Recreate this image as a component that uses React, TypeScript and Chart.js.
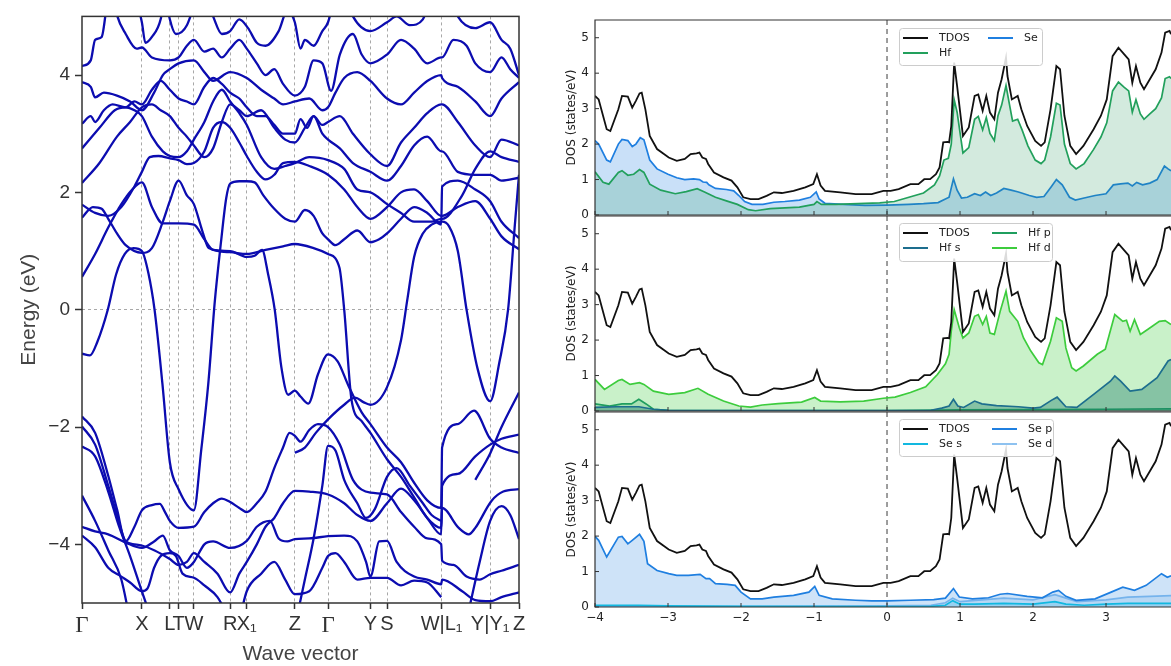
import React, { useEffect, useRef } from 'react';
import { Chart, registerables } from 'chart.js';
Chart.register(...registerables);

type P = [number, number];

// ---------- Band structure: k-path ticks ----------
const kTicks = [0, 0.137, 0.201, 0.221, 0.256, 0.339, 0.377, 0.487, 0.563, 0.66, 0.698, 0.823, 0.934, 1];
const kLabels = ['Γ', 'X', 'L', 'T', 'W', 'R', 'X₁', 'Z', 'Γ', 'Y', 'S', 'W|L₁', 'Y|Y₁', 'Z'];
const energyTicks = [-4, -2, 0, 2, 4];

// ---------- Bands (k, E in eV) ----------
const bandA: P[] = [[0,-0.75],[0.018,-0.78],[0.035,-0.55],[0.059,0],[0.078,0.6],[0.098,0.95],[0.118,1.05],[0.137,1.0],[0.152,0.62],[0.166,0],[0.184,-1.26],[0.201,-2.6],[0.221,-3.06],[0.256,-3.42],[0.273,-2.38],[0.289,-1.26],[0.304,0.15],[0.318,1.15],[0.33,1.9],[0.339,2.15],[0.36,2.19],[0.377,2.19],[0.395,2.17],[0.415,1.95],[0.44,1.72],[0.465,1.55],[0.487,1.5],[0.51,1.7],[0.53,1.6],[0.55,1.3],[0.563,1.2],[0.58,1.1],[0.6,1.2],[0.63,1.35],[0.66,1.15],[0.68,1.2],[0.698,1.3],[0.73,1.55],[0.76,1.75],[0.79,1.65],[0.822,1.45],[0.824,2.1],[0.86,2.2],[0.9,2.05],[0.934,1.85],[0.96,1.5],[1,1.22]];
const band01: P[] = [[0,0.56],[0.03,0.95],[0.06,1.4],[0.09,1.8],[0.115,2.05],[0.137,2.17],[0.16,1.75],[0.185,1.47],[0.221,1.47],[0.256,1.45],[0.28,1.2],[0.3,1.02],[0.339,1.0],[0.377,0.9],[0.395,0.92],[0.412,1.02],[0.426,0.6],[0.441,0],[0.456,-0.97],[0.472,-1.45],[0.487,-1.38],[0.5,-1.48],[0.518,-1.6],[0.54,-1.1],[0.563,-0.76],[0.585,-0.88],[0.61,-1.3],[0.64,-1.75],[0.66,-1.95],[0.698,-2.35],[0.73,-2.6],[0.76,-2.95],[0.79,-3.25],[0.822,-3.38],[0.824,-2.35],[0.86,-1.95],[0.897,-1.72],[0.934,-2.2],[0.96,-2.35],[1,-2.44]];
const band02: P[] = [[0,1.57],[0.025,1.75],[0.045,1.72],[0.06,1.55],[0.08,1.3],[0.1,1.1],[0.137,0.97],[0.16,1.05],[0.185,1.5],[0.201,1.85],[0.221,2.2],[0.24,1.95],[0.256,1.8],[0.275,1.35],[0.29,1.05],[0.339,0.98],[0.377,0.95],[0.42,1.02],[0.46,1.08],[0.487,1.12],[0.53,1.05],[0.563,0.95],[0.589,0.72],[0.6,0],[0.617,-1.55],[0.64,-1.9],[0.66,-2.1],[0.698,-2.55],[0.73,-2.85],[0.76,-3.2],[0.79,-3.55],[0.822,-3.72],[0.824,-3.38],[0.862,-3.72],[0.885,-3.83],[0.9,-3.72],[0.937,-3.26],[0.964,-3.1],[1,-3.06]];
const band03: P[] = [[0.487,-2.44],[0.51,-2.35],[0.535,-2.1],[0.563,-1.87],[0.6,-1.62],[0.625,-1.5],[0.645,-1.58],[0.66,-1.62],[0.698,-1.32],[0.73,-0.52],[0.744,0.15],[0.76,0.9],[0.78,1.3],[0.8,1.45],[0.822,1.5],[0.824,1.5],[0.84,1.42],[0.86,1.0],[0.88,0],[0.905,-1.0],[0.934,-1.56],[0.955,-0.9],[0.975,0],[0.99,1.4],[1,2.3]];
const band04: P[] = [[0,1.79],[0.03,1.65],[0.06,1.6],[0.09,1.75],[0.12,2.1],[0.137,2.35],[0.155,2.6],[0.175,2.62],[0.201,2.58],[0.221,2.55],[0.24,2.48],[0.256,2.5],[0.28,2.7],[0.3,3.1],[0.32,3.2],[0.339,3.1],[0.36,2.85],[0.377,2.62],[0.4,2.35],[0.42,2.22],[0.44,2.3],[0.46,2.5],[0.487,2.52],[0.52,2.45],[0.563,2.3],[0.6,2.05],[0.63,1.75],[0.66,1.55],[0.698,1.75],[0.73,2.0],[0.76,2.05],[0.79,1.85],[0.822,1.6],[0.824,1.6],[0.86,1.75],[0.9,1.85],[0.934,1.55],[0.96,1.25],[1,1.03]];
const band05: P[] = [[0,2.16],[0.04,2.5],[0.08,2.95],[0.11,3.2],[0.137,3.45],[0.16,3.5],[0.18,3.4],[0.201,3.3],[0.221,3.1],[0.24,2.95],[0.256,2.8],[0.28,2.6],[0.3,2.75],[0.32,3.2],[0.339,3.5],[0.36,3.4],[0.377,3.3],[0.41,3.4],[0.44,3.1],[0.465,2.9],[0.487,2.85],[0.51,3.1],[0.53,3.3],[0.55,3.0],[0.563,2.9],[0.59,2.75],[0.62,2.5],[0.66,2.35],[0.698,2.2],[0.73,2.45],[0.76,2.8],[0.79,2.95],[0.822,2.7],[0.824,2.7],[0.86,2.35],[0.9,2.3],[0.934,2.3],[0.96,2.2],[1,2.25]];
const band06: P[] = [[0,2.75],[0.04,3.1],[0.075,3.4],[0.1,3.45],[0.12,3.4],[0.137,3.3],[0.16,2.95],[0.185,2.7],[0.201,2.62],[0.221,2.6],[0.24,2.7],[0.256,2.9],[0.28,3.2],[0.3,3.55],[0.32,3.75],[0.339,3.55],[0.36,3.35],[0.377,3.15],[0.41,2.6],[0.44,2.4],[0.465,2.45],[0.487,2.5],[0.52,2.6],[0.563,2.55],[0.6,2.4],[0.63,2.05],[0.66,2.0],[0.698,1.8],[0.73,1.65],[0.76,1.5],[0.8,1.5],[0.822,1.55],[0.824,1.55],[0.87,1.95],[0.9,2.4],[0.934,2.7],[0.96,2.6],[1,2.52]];
const band07: P[] = [[0,3.17],[0.02,3.3],[0.03,3.2],[0.05,3.4],[0.07,3.5],[0.1,3.45],[0.12,3.55],[0.137,3.5],[0.16,3.75],[0.18,3.9],[0.201,3.75],[0.221,3.6],[0.24,3.55],[0.256,3.5],[0.28,3.8],[0.3,3.95],[0.32,3.85],[0.339,3.7],[0.36,3.6],[0.377,3.45],[0.4,3.3],[0.42,3.3],[0.44,3.15],[0.46,3.0],[0.487,3.0],[0.5,3.25],[0.515,3.1],[0.53,3.3],[0.55,3.15],[0.563,3.2],[0.59,3.3],[0.62,3.0],[0.66,2.65],[0.698,2.45],[0.73,2.85],[0.76,3.1],[0.79,3.35],[0.822,3.5],[0.824,3.5],[0.86,3.2],[0.9,2.8],[0.934,2.6],[0.96,2.9],[1,2.8]];
const band08: P[] = [[0,3.88],[0.02,3.8],[0.03,3.62],[0.05,3.7],[0.08,3.65],[0.11,3.55],[0.137,3.4],[0.165,3.7],[0.185,4.0],[0.201,4.1],[0.221,4.2],[0.256,4.25],[0.28,4.05],[0.3,3.9],[0.339,4.05],[0.377,3.95],[0.41,3.75],[0.44,3.6],[0.46,3.5],[0.487,3.55],[0.52,3.6],[0.55,3.4],[0.563,3.45],[0.58,3.7],[0.6,3.95],[0.63,4.05],[0.66,3.9],[0.698,3.6],[0.73,3.5],[0.76,3.7],[0.79,3.9],[0.822,4.0],[0.824,3.95],[0.86,3.8],[0.9,3.55],[0.934,3.3],[0.96,3.6],[1,3.88]];
const band09: P[] = [[0,4.15],[0.02,4.25],[0.03,4.6],[0.045,4.65],[0.055,5.1],[0.06,5.4]];
const band10: P[] = [[0.07,5.4],[0.081,5.0],[0.1,4.7],[0.125,4.45],[0.137,4.47],[0.16,4.3],[0.201,4.25],[0.221,4.3],[0.24,4.5],[0.256,4.6],[0.28,4.4],[0.3,4.45],[0.32,4.3],[0.339,4.45],[0.36,4.6],[0.377,4.45],[0.4,4.2],[0.42,4.0],[0.44,4.1],[0.46,3.85],[0.487,3.65],[0.51,3.8],[0.53,4.25],[0.55,4.2],[0.57,3.73],[0.59,4.35],[0.62,4.7],[0.64,4.35],[0.66,4.2],[0.698,4.35],[0.73,4.6],[0.76,4.45],[0.79,4.2],[0.822,4.3],[0.824,4.3],[0.85,4.6],[0.88,4.5],[0.9,4.2],[0.934,4.05],[0.96,4.3],[0.98,4.1],[1,3.95]];
const band11: P[] = [[0.12,5.4],[0.137,4.9],[0.145,4.55],[0.16,4.65],[0.18,4.95],[0.19,5.4]];
const band12: P[] = [[0.19,5.4],[0.201,4.95],[0.215,4.7],[0.24,4.85],[0.265,5.4]];
const band13: P[] = [[0.28,5.4],[0.3,5.0],[0.32,4.7],[0.339,4.75],[0.36,4.95],[0.38,4.8],[0.4,4.55],[0.42,4.5],[0.45,4.75],[0.47,5.1],[0.487,4.9],[0.5,4.45],[0.51,4.6],[0.53,4.5],[0.55,4.75],[0.563,4.9],[0.58,5.4]];
const band14: P[] = [[0.6,5.4],[0.62,5.0],[0.66,4.75],[0.698,4.9],[0.72,5.0],[0.75,4.85],[0.78,4.95],[0.8,5.4]];
const band15: P[] = [[0.84,5.4],[0.86,5.0],[0.9,4.8],[0.934,4.9],[0.96,4.6],[0.98,4.45],[1,4.0]];
const band16: P[] = [[0,-1.82],[0.03,-2.1],[0.06,-2.83],[0.08,-3.4],[0.1,-3.95],[0.12,-3.7],[0.137,-3.42],[0.16,-3.33],[0.178,-3.31],[0.19,-3.45],[0.201,-3.6],[0.221,-3.72],[0.256,-3.7],[0.28,-3.45],[0.3,-3.3],[0.32,-3.22],[0.339,-3.28],[0.36,-3.38],[0.377,-3.45],[0.4,-3.3],[0.42,-3.1],[0.44,-2.7],[0.46,-2.35],[0.475,-2.1],[0.487,-2.15],[0.5,-2.25],[0.52,-2.05],[0.54,-1.95],[0.563,-2.0],[0.59,-2.3],[0.62,-2.9],[0.66,-3.12],[0.698,-3.15],[0.73,-3.45],[0.76,-3.7],[0.79,-3.9],[0.822,-4.0],[0.824,-4.28],[0.85,-4.35],[0.88,-4.55],[0.91,-4.6],[0.934,-4.51],[0.96,-4.45],[1,-4.35]];
const band17: P[] = [[0,-1.99],[0.03,-2.3],[0.06,-3.0],[0.08,-3.5],[0.1,-3.95],[0.12,-4.0],[0.137,-4.02],[0.165,-4.1],[0.201,-4.25],[0.221,-4.35],[0.24,-4.3],[0.256,-4.15],[0.28,-4.3],[0.31,-4.5],[0.339,-4.82],[0.36,-4.5],[0.377,-4.3],[0.4,-4.0],[0.42,-3.7],[0.44,-3.55],[0.46,-3.3],[0.487,-3.09],[0.52,-3.1],[0.563,-3.15],[0.6,-3.3],[0.63,-3.5],[0.66,-3.6],[0.698,-3.3],[0.73,-3.05],[0.76,-3.25],[0.79,-3.55],[0.822,-3.83],[0.824,-3.0],[0.86,-2.8],[0.9,-2.5],[0.934,-2.3],[0.96,-2.2],[1,-2.13]];
const band18: P[] = [[0,-2.33],[0.03,-2.5],[0.06,-3.1],[0.085,-3.7],[0.11,-4.2],[0.137,-4.8],[0.16,-5.3]];
const band19: P[] = [[0,-3.17],[0.03,-3.6],[0.06,-4.1],[0.09,-4.6],[0.11,-5.3]];
const band20: P[] = [[0,-3.7],[0.03,-3.78],[0.06,-3.83],[0.1,-3.97],[0.137,-4.06],[0.165,-3.95],[0.185,-3.85],[0.201,-4.1],[0.221,-4.2],[0.24,-4.4],[0.256,-4.3],[0.28,-4.0],[0.3,-3.95],[0.339,-4.06],[0.377,-3.94],[0.4,-3.7],[0.43,-3.6],[0.45,-3.9],[0.47,-3.95],[0.487,-3.91],[0.52,-3.9],[0.563,-3.86],[0.6,-3.85],[0.63,-3.95],[0.65,-4.3],[0.66,-4.55],[0.68,-3.95],[0.698,-3.94],[0.72,-4.3],[0.76,-4.55],[0.79,-4.6],[0.822,-4.68],[0.824,-4.6],[0.87,-4.8],[0.9,-4.95],[0.934,-4.97],[0.96,-4.9],[1,-4.82]];
const band21: P[] = [[0,-3.85],[0.03,-4.05],[0.06,-4.4],[0.09,-4.55],[0.11,-4.65],[0.137,-4.8],[0.15,-4.75],[0.165,-4.4],[0.18,-4.2],[0.201,-4.15],[0.215,-4.2],[0.23,-4.5],[0.256,-4.57],[0.28,-4.7],[0.31,-4.9],[0.339,-5.3]];
const band22: P[] = [[0.36,-5.3],[0.377,-4.8],[0.41,-4.5],[0.44,-4.3],[0.465,-4.6],[0.487,-4.85],[0.52,-4.8],[0.55,-4.4],[0.563,-4.2],[0.58,-4.15],[0.6,-4.3],[0.63,-4.6],[0.66,-4.57],[0.698,-4.57],[0.73,-4.7],[0.76,-4.62],[0.79,-4.65],[0.822,-4.9]];
const band23: P[] = [[0.49,-5.3],[0.51,-4.6],[0.53,-3.9],[0.55,-3.0],[0.563,-2.32],[0.58,-2.4],[0.6,-2.9],[0.63,-3.3],[0.65,-3.55],[0.67,-3.4],[0.698,-2.85],[0.72,-2.7],[0.75,-3.0],[0.78,-3.3],[0.8,-3.5],[0.822,-3.6]];
const band24: P[] = [[0.88,-5.3],[0.91,-4.3],[0.934,-3.6],[0.96,-3.35],[0.98,-3.5],[1,-3.91]];
const band25: P[] = [[0.9,-2.9],[0.934,-2.45],[0.96,-2.0],[1,-1.41]];
const bands: P[][] = [bandA, band01, band02, band03, band04, band05, band06, band07, band08, band09, band10, band11, band12, band13, band14, band15, band16, band17, band18, band19, band20, band21, band22, band23, band24, band25];

// ---------- DOS (energy eV, states/eV) ----------
const dosEnergyTicks = [-4, -3, -2, -1, 0, 1, 2, 3];
const dosTicks = [0, 1, 2, 3, 4, 5];

const tdos: P[] = [[-4,3.36],[-3.95,3.26],[-3.84,2.42],[-3.79,2.37],[-3.68,2.98],[-3.63,3.36],[-3.55,3.34],[-3.49,3.03],[-3.44,3.22],[-3.39,3.43],[-3.36,3.45],[-3.31,2.98],[-3.25,2.23],[-3.15,1.86],[-2.99,1.62],[-2.88,1.53],[-2.77,1.58],[-2.69,1.72],[-2.61,1.74],[-2.57,1.76],[-2.53,1.62],[-2.48,1.58],[-2.45,1.44],[-2.37,1.2],[-2.24,1.06],[-2.13,0.97],[-2.05,0.78],[-1.97,0.5],[-1.87,0.45],[-1.76,0.45],[-1.65,0.54],[-1.55,0.64],[-1.44,0.62],[-1.28,0.68],[-1.12,0.78],[-1.01,0.87],[-0.96,1.15],[-0.91,0.83],[-0.85,0.68],[-0.64,0.64],[-0.43,0.59],[-0.21,0.59],[-0.05,0.68],[0.05,0.68],[0.16,0.73],[0.32,0.87],[0.43,0.87],[0.51,1.01],[0.59,1.01],[0.67,1.15],[0.72,1.34],[0.77,2.05],[0.83,2.06],[0.85,2.05],[0.88,2.51],[0.92,4.3],[0.96,3.64],[1.04,2.23],[1.12,2.47],[1.2,3.36],[1.25,3.4],[1.31,2.94],[1.36,3.36],[1.41,2.89],[1.47,2.7],[1.52,3.45],[1.57,3.83],[1.63,4.44],[1.65,3.92],[1.71,3.26],[1.79,3.36],[1.84,2.98],[1.92,2.51],[2.03,2.09],[2.11,1.95],[2.16,2.05],[2.24,2.98],[2.32,4.2],[2.37,4.11],[2.43,2.8],[2.51,1.95],[2.59,1.72],[2.69,1.95],[2.83,2.42],[2.93,2.8],[3.01,3.26],[3.09,4.48],[3.17,4.72],[3.25,4.53],[3.31,4.39],[3.36,3.73],[3.41,4.2],[3.47,3.73],[3.52,3.55],[3.6,3.83],[3.68,4.11],[3.76,4.58],[3.81,5.14],[3.87,5.19],[3.89,5.1]];
const seDos: P[] = [[-4,2.1],[-3.95,2.0],[-3.84,1.55],[-3.79,1.5],[-3.68,2.0],[-3.63,2.13],[-3.55,2.1],[-3.49,1.93],[-3.44,2.0],[-3.38,2.18],[-3.33,2.12],[-3.25,1.55],[-3.15,1.3],[-3.0,1.15],[-2.88,1.05],[-2.77,1.0],[-2.65,1.02],[-2.57,1.0],[-2.52,0.93],[-2.47,0.92],[-2.44,0.85],[-2.35,0.75],[-2.2,0.72],[-2.1,0.68],[-2.03,0.55],[-1.95,0.38],[-1.85,0.3],[-1.7,0.3],[-1.55,0.36],[-1.4,0.38],[-1.2,0.42],[-1.05,0.5],[-0.97,0.65],[-0.93,0.45],[-0.85,0.33],[-0.6,0.3],[-0.3,0.27],[0,0.28],[0.3,0.3],[0.5,0.32],[0.7,0.35],[0.8,0.45],[0.85,0.5],[0.91,1.02],[0.96,0.7],[1.02,0.48],[1.1,0.5],[1.2,0.6],[1.28,0.55],[1.35,0.65],[1.42,0.55],[1.5,0.62],[1.6,0.75],[1.7,0.7],[1.8,0.65],[1.95,0.55],[2.05,0.5],[2.15,0.52],[2.25,0.8],[2.32,1.0],[2.4,0.85],[2.5,0.5],[2.58,0.42],[2.7,0.48],[2.85,0.55],[3.0,0.6],[3.1,0.85],[3.2,0.88],[3.3,0.9],[3.36,0.82],[3.42,0.92],[3.5,0.85],[3.6,0.9],[3.7,1.0],[3.8,1.38],[3.85,1.3],[3.89,1.25]];
const hfDos: P[] = [[-4,1.22],[-3.89,0.92],[-3.81,0.87],[-3.68,1.2],[-3.63,1.25],[-3.55,1.12],[-3.47,1.15],[-3.39,1.28],[-3.33,1.2],[-3.25,0.87],[-3.1,0.7],[-2.9,0.6],[-2.75,0.66],[-2.6,0.74],[-2.5,0.65],[-2.35,0.5],[-2.2,0.4],[-2.05,0.3],[-1.9,0.15],[-1.8,0.12],[-1.6,0.18],[-1.4,0.2],[-1.2,0.22],[-1.0,0.3],[-0.96,0.38],[-0.9,0.3],[-0.7,0.3],[-0.4,0.32],[-0.1,0.34],[0.1,0.38],[0.3,0.5],[0.5,0.62],[0.65,0.85],[0.72,1.1],[0.78,1.55],[0.84,1.6],[0.88,2.0],[0.92,3.25],[0.96,2.9],[1.04,1.75],[1.12,1.9],[1.2,2.7],[1.25,2.78],[1.31,2.4],[1.36,2.75],[1.41,2.3],[1.47,2.1],[1.52,2.8],[1.57,3.1],[1.63,3.65],[1.67,3.2],[1.72,2.65],[1.79,2.7],[1.85,2.4],[1.93,1.95],[2.03,1.55],[2.11,1.45],[2.16,1.55],[2.24,2.2],[2.32,3.15],[2.37,3.1],[2.43,2.0],[2.51,1.45],[2.59,1.3],[2.7,1.45],[2.83,1.85],[2.93,2.2],[3.01,2.6],[3.09,3.5],[3.17,3.75],[3.25,3.6],[3.31,3.5],[3.36,2.9],[3.41,3.25],[3.47,2.85],[3.52,2.7],[3.6,2.85],[3.68,3.0],[3.76,3.3],[3.81,3.85],[3.87,3.9],[3.89,3.85]];
const hfS: P[] = [[-4,0.1],[-3.7,0.12],[-3.4,0.12],[-3.2,0.05],[-3,0.02],[-2,0.01],[0,0.01],[0.6,0.02],[0.75,0.08],[0.85,0.14],[0.91,0.33],[0.97,0.14],[1.05,0.1],[1.2,0.28],[1.3,0.2],[1.5,0.15],[1.8,0.12],[2.0,0.08],[2.1,0.1],[2.25,0.3],[2.33,0.39],[2.45,0.12],[2.6,0.1],[2.83,0.47],[3.06,0.84],[3.12,0.99],[3.2,0.84],[3.33,0.56],[3.49,0.61],[3.7,0.94],[3.85,1.41],[3.89,1.45]];
const hfP: P[] = [[-4,0.2],[-3.8,0.14],[-3.63,0.2],[-3.5,0.2],[-3.4,0.33],[-3.3,0.2],[-3.2,0.05],[-3,0.02],[0,0.01],[1,0.03],[2,0.04],[3,0.05],[3.89,0.06]];
const hfD: P[] = [[-4,0.89],[-3.87,0.61],[-3.68,0.86],[-3.63,0.89],[-3.52,0.75],[-3.39,0.8],[-3.33,0.75],[-3.2,0.56],[-2.99,0.47],[-2.77,0.52],[-2.59,0.64],[-2.45,0.47],[-2.24,0.28],[-2.03,0.14],[-1.87,0.11],[-1.71,0.17],[-1.49,0.21],[-1.17,0.25],[-0.99,0.38],[-0.91,0.28],[-0.64,0.26],[-0.32,0.28],[-0.05,0.36],[0.11,0.39],[0.32,0.52],[0.53,0.68],[0.69,1.03],[0.8,1.33],[0.85,1.6],[0.88,2.25],[0.92,2.86],[0.99,2.35],[1.04,2.06],[1.12,2.2],[1.2,2.67],[1.25,2.72],[1.31,2.44],[1.36,2.67],[1.41,2.2],[1.47,2.16],[1.55,2.81],[1.63,3.38],[1.68,2.81],[1.79,2.53],[1.87,2.06],[1.97,1.69],[2.08,1.36],[2.13,1.31],[2.24,1.97],[2.32,2.63],[2.4,2.53],[2.45,1.78],[2.53,1.22],[2.59,1.13],[2.69,1.27],[2.88,1.6],[2.99,1.74],[3.12,2.72],[3.23,2.53],[3.28,2.56],[3.33,2.25],[3.39,2.58],[3.47,2.16],[3.57,2.3],[3.73,2.53],[3.81,2.55],[3.89,2.44]];
const seS: P[] = [[-4,0.05],[-3.4,0.05],[-3,0.03],[-2,0.02],[0,0.01],[0.6,0.02],[0.8,0.05],[0.9,0.18],[1.0,0.08],[1.2,0.08],[1.6,0.1],[2.0,0.08],[2.3,0.15],[2.45,0.08],[2.7,0.05],[3.0,0.08],[3.3,0.1],[3.6,0.1],[3.89,0.1]];
const seP: P[] = [[-4,1.99],[-3.95,1.88],[-3.84,1.41],[-3.68,1.97],[-3.63,1.99],[-3.55,1.78],[-3.49,1.88],[-3.39,2.05],[-3.33,1.85],[-3.28,1.22],[-3.15,1.03],[-2.99,0.94],[-2.88,0.89],[-2.72,0.89],[-2.56,0.92],[-2.48,0.8],[-2.43,0.8],[-2.35,0.66],[-2.19,0.64],[-2.08,0.61],[-2.0,0.42],[-1.87,0.23],[-1.71,0.23],[-1.55,0.28],[-1.28,0.33],[-1.07,0.42],[-0.99,0.58],[-0.93,0.33],[-0.75,0.23],[-0.43,0.19],[-0.21,0.17],[0,0.17],[0.32,0.19],[0.64,0.21],[0.8,0.25],[0.91,0.52],[0.99,0.28],[1.17,0.23],[1.39,0.26],[1.55,0.36],[1.65,0.38],[1.92,0.3],[2.13,0.26],[2.27,0.42],[2.35,0.47],[2.45,0.3],[2.59,0.19],[2.85,0.23],[3.07,0.42],[3.23,0.56],[3.39,0.47],[3.55,0.61],[3.76,0.94],[3.84,0.84],[3.89,0.88]];
const seD: P[] = [[-4,0.02],[-3,0.02],[-2,0.02],[0,0.03],[0.6,0.05],[0.8,0.12],[0.9,0.25],[1.0,0.15],[1.3,0.2],[1.6,0.25],[2.0,0.2],[2.3,0.35],[2.45,0.25],[2.6,0.15],[3.0,0.2],[3.3,0.28],[3.6,0.3],[3.89,0.32]];

// ---------- styles ----------
const SANS = '"Liberation Sans", Arial, sans-serif';
const SERIF = '"Liberation Serif", "Times New Roman", serif';
const DV = '"DejaVu Sans", sans-serif';
const C = {
  tdos: '#111111', hf: '#22a05c', se: '#1f7fe0', hfS: '#1d6e8e', hfP: '#1f9e5e', hfD: '#3dcc3d',
  seS: '#12b8e0', seP: '#1f7fe0', seD: '#8ec2f0', band: '#0c0cb0',
};

const toXY = (a: P[]) => a.map(([x, y]) => ({ x, y }));
const minus = (v: number) => (v < 0 ? '\u2212' + Math.abs(v) : String(v));

function dsLine(data: P[], color: string, width: number, fill?: string) {
  return {
    data: toXY(data), borderColor: color, borderWidth: width, pointRadius: 0,
    fill: fill ? 'origin' : false, backgroundColor: fill || 'rgba(0,0,0,0)', tension: 0,
  };
}

type LegItem = { label: string; color: string; col: number; row: number };
type LegBox = { x: number; y: number; w: number; h: number; col1: number; items: LegItem[] };

function dosDecor(leg: LegBox) {
  return {
    id: 'dosDecor',
    beforeDatasetsDraw(chart: any) {
      const { ctx, chartArea: a, scales } = chart;
      const px = scales.x.getPixelForValue(0);
      ctx.save();
      ctx.strokeStyle = '#6a6a6a'; ctx.lineWidth = 1.3; ctx.setLineDash([5, 4]);
      ctx.beginPath(); ctx.moveTo(px, a.top); ctx.lineTo(px, a.bottom); ctx.stroke();
      ctx.restore();
    },
    afterDraw(chart: any) {
      const { ctx, chartArea: a, scales } = chart;
      ctx.save();
      ctx.strokeStyle = '#333'; ctx.lineWidth = 1.2;
      ctx.beginPath();
      ctx.moveTo(a.right + 2, a.top); ctx.lineTo(a.left, a.top); ctx.lineTo(a.left, a.bottom); ctx.lineTo(a.right + 2, a.bottom);
      ctx.stroke();
      ctx.lineWidth = 1;
      ctx.beginPath();
      scales.x.ticks.forEach((t: any) => {
        const p = scales.x.getPixelForValue(t.value);
        ctx.moveTo(p, a.bottom); ctx.lineTo(p, a.bottom - 4);
      });
      scales.y.ticks.forEach((t: any) => {
        const p = scales.y.getPixelForValue(t.value);
        ctx.moveTo(a.left, p); ctx.lineTo(a.left + 4, p);
      });
      ctx.stroke();
      // legend
      const bx = a.left + leg.x, by = a.top + leg.y;
      ctx.fillStyle = 'rgba(255,255,255,0.85)';
      ctx.strokeStyle = '#cccccc'; ctx.lineWidth = 1;
      ctx.beginPath();
      (ctx as any).roundRect(bx + 0.5, by + 0.5, leg.w, leg.h, 3);
      ctx.fill(); ctx.stroke();
      ctx.font = '11px ' + DV; ctx.textBaseline = 'middle'; ctx.textAlign = 'left';
      leg.items.forEach((it) => {
        const lx = bx + (it.col === 0 ? 4 : leg.col1);
        const ly = by + (it.row === 0 ? 10 : 25);
        ctx.strokeStyle = it.color; ctx.lineWidth = 2;
        ctx.beginPath(); ctx.moveTo(lx, ly); ctx.lineTo(lx + 25, ly); ctx.stroke();
        ctx.fillStyle = '#222';
        ctx.fillText(it.label, lx + 36, ly + 0.5);
      });
      ctx.restore();
    },
  };
}

function dosOptions(h: number, showX: boolean): any {
  return {
    responsive: false, animation: false, devicePixelRatio: 1, events: [],
    layout: { padding: { left: 0, top: 20, right: 0, bottom: 0 } },
    plugins: { legend: { display: false }, tooltip: { enabled: false } },
    scales: {
      x: {
        type: 'linear', min: -4, max: 3.89,
        afterBuildTicks: (s: any) => { s.ticks = dosEnergyTicks.map((v) => ({ value: v })); },
        afterFit: (s: any) => { s.height = h - 215; },
        ticks: { display: showX, padding: 4, color: '#222', autoSkip: false, maxRotation: 0, font: { family: DV, size: 12 }, callback: (v: number) => minus(v) },
        grid: { display: false, drawTicks: false },
        border: { display: false },
      },
      y: {
        type: 'linear', min: 0, max: 5.5,
        afterBuildTicks: (s: any) => { s.ticks = dosTicks.map((v) => ({ value: v })); },
        afterFit: (s: any) => { s.width = 65; },
        ticks: { padding: 6, color: '#222', font: { family: DV, size: 12 } },
        grid: { display: false, drawTicks: false },
        border: { display: false },
        title: { display: true, text: 'DOS (states/eV)', color: '#222', font: { family: DV, size: 12 }, padding: { top: 35, bottom: 0 } },
      },
    },
  };
}

export default function App() {
  const bandRef = useRef<HTMLCanvasElement>(null);
  const d1 = useRef<HTMLCanvasElement>(null);
  const d2 = useRef<HTMLCanvasElement>(null);
  const d3 = useRef<HTMLCanvasElement>(null);

  useEffect(() => {
    const charts: Chart[] = [];
    const frame = {
      id: 'bandFrame',
      afterDraw(chart: any) {
        const { ctx, chartArea: a } = chart;
        ctx.save(); ctx.strokeStyle = '#333'; ctx.lineWidth = 1.5;
        ctx.strokeRect(a.left, a.top, a.right - a.left, a.bottom - a.top);
        ctx.restore();
      },
    };
    charts.push(new Chart(bandRef.current!, {
      type: 'line',
      data: {
        datasets: bands.map((b) => ({
          data: toXY(b), borderColor: C.band, borderWidth: 2.3, pointRadius: 0, fill: false,
          cubicInterpolationMode: 'monotone' as const,
        })),
      },
      options: {
        responsive: false, animation: false, devicePixelRatio: 1, events: [],
        layout: { padding: { left: 0, top: 13, right: 21, bottom: 0 } },
        plugins: { legend: { display: false }, tooltip: { enabled: false } },
        scales: {
          x: {
            type: 'linear', min: 0, max: 1,
            afterBuildTicks: (s: any) => { s.ticks = kTicks.map((v) => ({ value: v })); },
            afterFit: (s: any) => { s.height = 63; },
            ticks: {
              autoSkip: false, maxRotation: 0, padding: 3, color: '#333',
              font: (c: any) => (c.index === 0 || c.index === 8 ? { family: SERIF, size: 23 } : { family: SANS, size: 20 }),
              callback: (_v: any, i: number) => kLabels[i],
            },
            grid: {
              color: (c: any) => (c.index === 0 || c.index === kTicks.length - 1 ? 'rgba(0,0,0,0)' : '#a8a8a8'),
              lineWidth: 1, tickLength: 6, tickColor: '#333', tickWidth: 1.5,
            },
            border: { display: false, dash: [3, 3] },
            title: { display: true, text: 'Wave vector', color: '#444', font: { family: SANS, size: 21, lineHeight: 1.1 }, padding: { top: 0, bottom: 0 } },
          },
          y: {
            type: 'linear', min: -5, max: 5,
            afterBuildTicks: (s: any) => { s.ticks = energyTicks.map((v) => ({ value: v })); },
            afterFit: (s: any) => { s.width = 82; },
            ticks: { padding: 5, color: '#333', font: { family: SANS, size: 19 }, callback: (v: number) => minus(v) },
            grid: {
              color: (c: any) => (c.tick && c.tick.value === 0 ? '#a8a8a8' : 'rgba(0,0,0,0)'),
              tickLength: 7, tickColor: '#333', tickWidth: 1.5,
            },
            border: { display: false, dash: [3, 3] },
            title: { display: true, text: 'Energy (eV)', color: '#444', font: { family: SANS, size: 21 }, padding: { top: 17, bottom: 0 } },
          },
        },
      } as any,
      plugins: [frame],
    }));

    const leg1: LegBox = { x: 304, y: 8, w: 143, h: 37, col1: 89, items: [
      { label: 'TDOS', color: C.tdos, col: 0, row: 0 }, { label: 'Hf', color: C.hf, col: 0, row: 1 }, { label: 'Se', color: C.se, col: 1, row: 0 }] };
    const leg2: LegBox = { x: 304, y: 7, w: 153, h: 38, col1: 93, items: [
      { label: 'TDOS', color: C.tdos, col: 0, row: 0 }, { label: 'Hf s', color: C.hfS, col: 0, row: 1 },
      { label: 'Hf p', color: C.hfP, col: 1, row: 0 }, { label: 'Hf d', color: C.hfD, col: 1, row: 1 }] };
    const leg3: LegBox = { x: 304, y: 7, w: 154, h: 37, col1: 93, items: [
      { label: 'TDOS', color: C.tdos, col: 0, row: 0 }, { label: 'Se s', color: C.seS, col: 0, row: 1 },
      { label: 'Se p', color: C.seP, col: 1, row: 0 }, { label: 'Se d', color: C.seD, col: 1, row: 1 }] };

    charts.push(new Chart(d1.current!, {
      type: 'line',
      data: { datasets: [
        dsLine(tdos, C.tdos, 1.8),
        dsLine(hfDos, C.hf, 1.7, 'rgba(34,150,92,0.2)'),
        dsLine(seDos, C.se, 1.7, 'rgba(31,127,224,0.24)'),
      ] as any },
      options: dosOptions(230, false),
      plugins: [dosDecor(leg1)],
    }));
    charts.push(new Chart(d2.current!, {
      type: 'line',
      data: { datasets: [
        dsLine(tdos, C.tdos, 1.8),
        dsLine(hfS, C.hfS, 1.7, 'rgba(25,120,105,0.38)'),
        dsLine(hfP, C.hfP, 1.7, 'rgba(31,158,94,0.2)'),
        dsLine(hfD, C.hfD, 1.7, 'rgba(60,205,60,0.28)'),
      ] as any },
      options: dosOptions(230, false),
      plugins: [dosDecor(leg2)],
    }));
    charts.push(new Chart(d3.current!, {
      type: 'line',
      data: { datasets: [
        dsLine(tdos, C.tdos, 1.8),
        dsLine(seS, C.seS, 1.7, 'rgba(18,184,224,0.2)'),
        dsLine(seP, C.seP, 1.7, 'rgba(31,127,224,0.22)'),
        dsLine(seD, C.seD, 1.7, 'rgba(142,194,240,0.25)'),
      ] as any },
      options: dosOptions(274, true),
      plugins: [dosDecor(leg3)],
    }));
    return () => { charts.forEach((c) => c.destroy()); };
  }, []);

  const abs = (l: number, t: number, w: number, h: number): React.CSSProperties => ({ position: 'absolute', left: l, top: t, width: w, height: h });
  return (
    <div style={{ position: 'absolute', left: 0, top: 0, width: 1171, height: 666, overflow: 'hidden', background: '#fff' }}>
      <canvas ref={bandRef} width={540} height={666} style={abs(0, 0, 540, 666)} />
      <canvas ref={d1} width={641} height={230} style={abs(530, 0, 641, 230)} />
      <canvas ref={d2} width={641} height={230} style={abs(530, 196, 641, 230)} />
      <canvas ref={d3} width={641} height={274} style={abs(530, 392, 641, 274)} />
    </div>
  );
}
